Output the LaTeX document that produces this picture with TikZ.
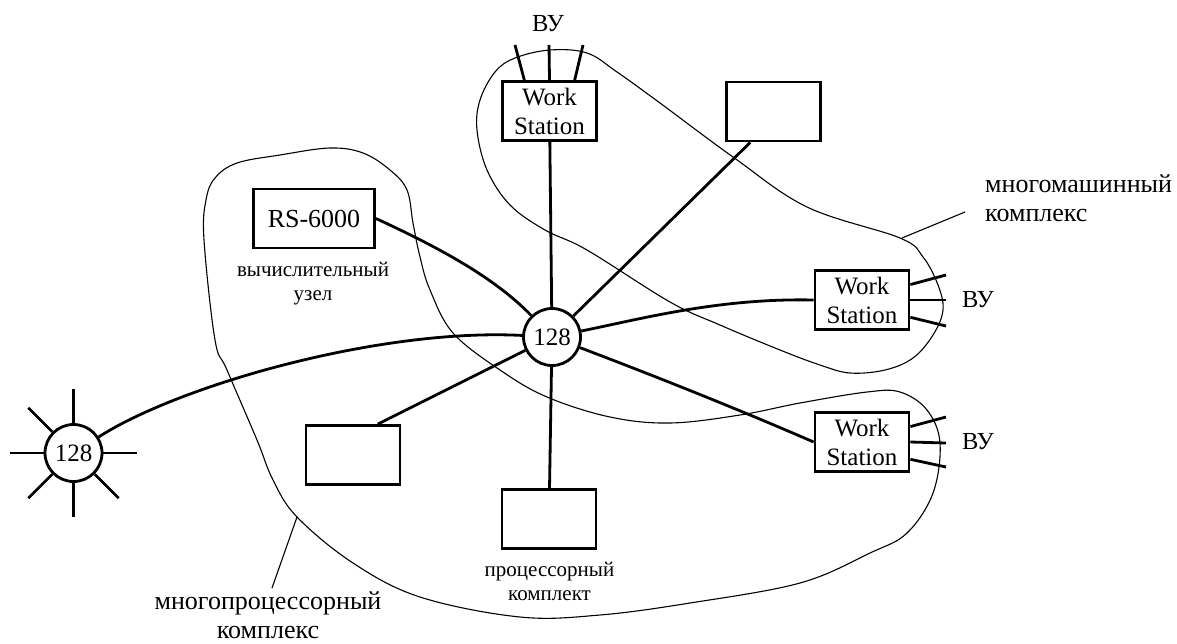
\documentclass[tikz,border=0pt]{standalone}
\usepackage{fontspec}
\setmainfont{Liberation Serif}
\usetikzlibrary{calc}
\tikzset{
  box/.style={draw, line width=2.8pt, rectangle, minimum width=94pt, minimum height=59pt, inner sep=0pt, align=center, font=\fontsize{25}{29}\selectfont},
  hubnode/.style={draw, line width=2.8pt, circle, minimum size=57pt, inner sep=0pt, font=\fontsize{25}{29}\selectfont},
  link/.style={line width=2.8pt},
  stub/.style={line width=2.8pt},
  blob/.style={line width=1.1pt},
  leader/.style={line width=1.1pt},
  tag/.style={font=\fontsize{24.5}{28}\selectfont, inner sep=0pt},
  smalltag/.style={font=\fontsize{21}{24}\selectfont, align=center, inner sep=0pt},
  bigtag/.style={font=\fontsize{26}{29}\selectfont, inner sep=0pt},
}
\begin{document}
\begin{tikzpicture}[x=1pt, y=-1pt]
\useasboundingbox (0,0) rectangle (1177,643);

% enclosing outlines of the two complexes
\draw[blob] plot[smooth cycle, tension=0.6] coordinates {
  (550,50) (587,53) (617,72) (660,103) (733,157) (807,207) (900,238)
  (923,257) (938,285) (943,310) (933,335) (913,358) (885,370) (850,373)
  (820,365) (780,350) (720,325) (670,302) (587,250) (545,230) (510,205)
  (487,170) (477,130) (480,100) (495,72) (515,58)};
\draw[blob] plot[smooth cycle, tension=0.6] coordinates {
  (237,163) (280,155) (330,148) (363,153) (390,170) (407,190) (413,223)
  (420,257) (430,290) (453,333) (500,370) (547,397) (610,417) (670,423)
  (740,415) (800,403) (867,392) (900,392) (927,410) (940,443) (933,493)
  (907,533) (870,553) (800,583) (690,603) (600,615) (520,617) (420,597)
  (353,563) (297,517) (273,480) (257,440) (227,370) (215,340) (204,240)
  (206,200) (215,178)};

% switches
\node[hubnode, fill=white] (hub) at (552,337) {128};
\node[hubnode, fill=white] (star) at (73.5,453) {128};

% computers
\node[box, fill=white] (ws0) at (549.5,111) {Work\\Station};
\node[box, fill=white] (tr) at (773.5,111.5) {};
\node[box, fill=white, minimum width=121pt, font=\fontsize{26}{29}\selectfont] (rs) at (314,218.5) {RS-6000};
\node[box, fill=white] (ws1) at (862,300) {Work\\Station};
\node[box, fill=white] (ws2) at (862,442) {Work\\Station};
\node[box, fill=white] (lb) at (353,455) {};
\node[box, fill=white] (bb) at (549,519) {};

% links to the central switch
\draw[link] (star) .. controls (180,385) and (380,328) .. (hub);
\draw[link] (rs.east) .. controls (440,248) and (495,278) .. (hub);
\draw[link] (ws0) -- (hub);
\draw[link] ($(tr.south west)!0.26!(tr.south east)$) -- (hub);
\draw[link] (hub) .. controls (645,318) and (720,298) .. (ws1.west);
\draw[link] (hub) .. controls (660,378) and (740,410) .. (ws2.west);
\draw[link] ($(lb.north west)!0.755!(lb.north east)$) -- (hub);
\draw[link] (bb) -- (hub);

% rays of the outer switch
\foreach \a in {0,90,135,180,225,270,315}
  \draw[stub] (star.\a) -- ++({34*cos(\a)},{-34*sin(\a)});

% device lines
\coordinate (t1) at (515,45);
\coordinate (t2) at (549,45);
\coordinate (t3) at (583,45);
\draw[stub] ($(ws0.north west)!0.24!(ws0.north east)$) -- (t1);
\draw[stub] (ws0.north) -- (t2);
\draw[stub] ($(ws0.north west)!0.76!(ws0.north east)$) -- (t3);

\coordinate (r1) at (946,275);
\coordinate (r2) at (946,300);
\coordinate (r3) at (946,326);
\draw[stub] ($(ws1.north east)!0.25!(ws1.south east)$) -- (r1);
\draw[stub] (ws1.east) -- (r2);
\draw[stub] ($(ws1.north east)!0.78!(ws1.south east)$) -- (r3);

\coordinate (s1) at (946,417);
\coordinate (s2) at (946,443);
\coordinate (s3) at (946,467);
\draw[stub] ($(ws2.north east)!0.25!(ws2.south east)$) -- (s1);
\draw[stub] (ws2.east) -- (s2);
\draw[stub] ($(ws2.north east)!0.78!(ws2.south east)$) -- (s3);

% labels
\node[tag] (vu0) at (548,24) {ВУ};
\node[tag] (vu1) at (978,300) {ВУ};
\node[tag] (vu2) at (978,442) {ВУ};
\node[smalltag] (rslabel) at (313,284) {вычислительный\\узел};
\node[smalltag] (bblabel) at (549.5,581) {процессорный\\комплект};
\node[bigtag, align=left, anchor=south west] (mmlabel) at (985,222) {многомашинный\\комплекс};
\node[bigtag, align=center, anchor=south] (mplabel) at (268,639) {многопроцессорный\\комплекс};

% leaders to the outlines
\coordinate (mm1) at (902,238);
\coordinate (mm2) at (965,212);
\draw[leader] (mm1) -- (mm2);
\coordinate (mp1) at (297,517);
\coordinate (mp2) at (272,588);
\draw[leader] (mp1) -- (mp2);
\end{tikzpicture}
\end{document}
